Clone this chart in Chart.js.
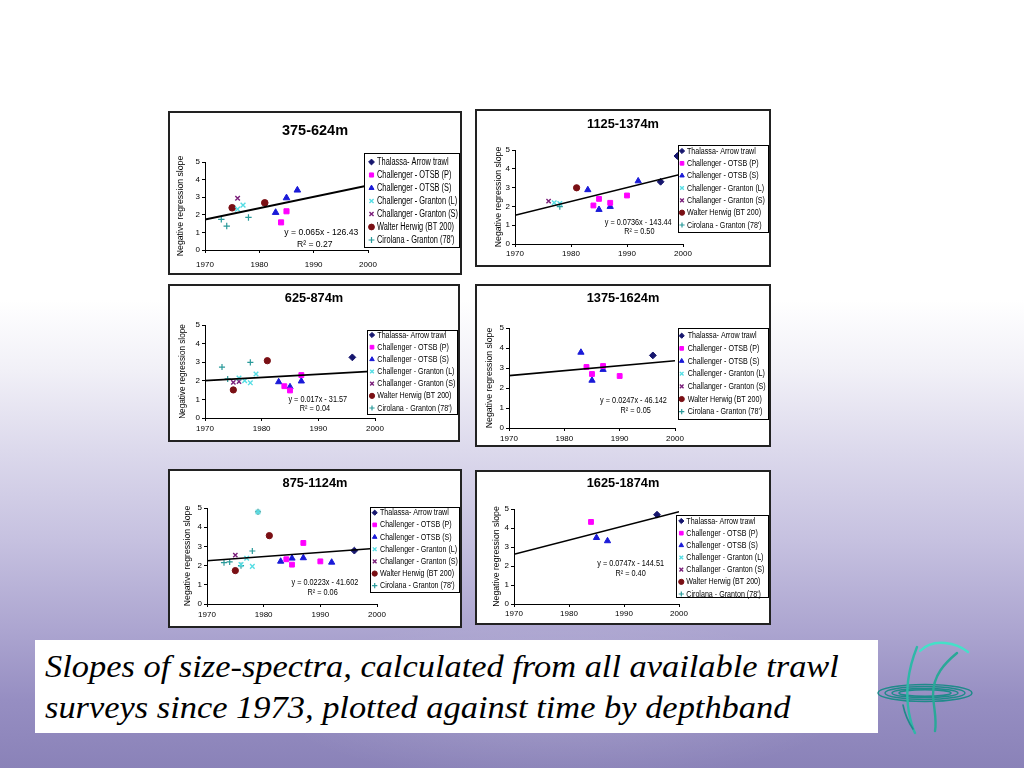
<!DOCTYPE html>
<html>
<head>
<meta charset="utf-8">
<title>Slopes of size-spectra by depthband</title>
<script src="https://cdn.jsdelivr.net/npm/chart.js@4.4.1/dist/chart.umd.min.js"></script>
<style>
html,body{margin:0;padding:0;}
body{width:1024px;height:768px;position:relative;overflow:hidden;
background:
 radial-gradient(ellipse 420px 120px at 560px 700px, rgba(255,255,255,0.16), rgba(255,255,255,0) 70%),
 linear-gradient(180deg,#ffffff 0px,#ffffff 300px,#f1f0f7 370px,#dcd9ec 450px,#c6c1e0 540px,#aca5d0 630px,#968ec2 700px,#8a82b8 768px);}
.panel{position:absolute;background:#fff;border:2px solid #222;box-sizing:border-box;}
.panel canvas{display:block;}
#caption{position:absolute;left:35px;top:640px;width:843px;height:93px;box-sizing:border-box;background:#fff;
 padding:6px 0 0 10px;font-family:'Liberation Serif','Times New Roman',serif;font-style:italic;font-size:31px;line-height:41px;color:#000;white-space:nowrap;}
#caption span{display:inline-block;transform:scaleX(1.11);transform-origin:0 0;}
#logo{position:absolute;left:875px;top:615px;}
</style>
</head>
<body>
<div class="panel" style="left:168px;top:111px;width:294px;height:164px"><canvas id="c375" width="290" height="160"></canvas></div>
<div class="panel" style="left:475px;top:109px;width:296px;height:158px"><canvas id="c1125" width="292" height="154"></canvas></div>
<div class="panel" style="left:168px;top:284px;width:292px;height:158px"><canvas id="c625" width="288" height="154"></canvas></div>
<div class="panel" style="left:475px;top:284px;width:296px;height:163px"><canvas id="c1375" width="292" height="159"></canvas></div>
<div class="panel" style="left:168px;top:469px;width:294px;height:159px"><canvas id="c875" width="290" height="155"></canvas></div>
<div class="panel" style="left:475px;top:470px;width:296px;height:155px"><canvas id="c1625" width="292" height="151"></canvas></div>
<div id="caption"><span>Slopes of size-spectra, calculated from all available trawl<br>surveys since 1973, plotted against time by depthband</span></div>
<svg id="logo" width="110" height="150" viewBox="0 0 110 150">
 <g fill="none" stroke="#1f8a8a" stroke-width="1.5">
  <ellipse cx="50" cy="78" rx="47" ry="8.5"/>
  <ellipse cx="50" cy="78" rx="40" ry="6.4"/>
  <ellipse cx="50" cy="78" rx="33" ry="4.6"/>
  <ellipse cx="50" cy="78" rx="26" ry="3.2"/>
 </g>
 <g fill="none" stroke-linecap="round">
  <path d="M42 32 C 34 52, 30 76, 34 98 C 36 108, 38 114, 40 118" stroke="#2fb8a8" stroke-width="2.4"/>
  <path d="M45 36 C 52 29, 60 27, 70 28 C 80 29, 88 33, 93 37" stroke="#45e0c8" stroke-width="2.4"/>
  <path d="M82 38 C 70 48, 58 60, 58 80 C 59 95, 62 105, 60 116" stroke="#2aa898" stroke-width="2.4"/>
  <path d="M28 90 C 30 100, 34 108, 38 114" stroke="#1f8a8a" stroke-width="1.6"/>
 </g>
</svg>
<script>
// ---------- shared labels ----------
const seriesNames = ["Thalassa- Arrow trawl","Challenger - OTSB (P)","Challenger - OTSB (S)","Challenger - Granton (L)","Challanger - Granton (S)","Walter Herwig (BT 200)","Cirolana - Granton (78')"];
const panelTitles = ["375-624m","1125-1374m","625-874m","1375-1624m","875-1124m","1625-1874m"];
const xTickValues = [1970,1980,1990,2000];
const xTickLabels = ["1970","1980","1990","2000"];
const yTickValues = [0,1,2,3,4,5];
const yTickLabels = ["0","1","2","3","4","5"];
const yAxisTitle = "Negative regression slope";

// ---------- 375-624m ----------
const d375_thalassa = [];
const d375_otsbP = [[1984,1.57],[1985,2.20]];
const d375_otsbS = [[1983,2.13],[1985,2.96],[1987,3.40]];
const d375_grantonL = [[1976,2.32],[1977,2.55]];
const d375_grantonS = [[1976,2.94]];
const d375_walter = [[1975,2.40],[1981,2.68]];
const d375_cirolana = [[1973,1.74],[1974,1.36],[1978,1.85]];
const trend375 = [[1970,1.73],[2000,3.66]];
const eq375 = ["y = 0.065x - 126.43","R² = 0.27"];

// ---------- 1125-1374m ----------
const d1125_thalassa = [[1996,3.31],[1999,4.68]];
const d1125_otsbP = [[1984,2.05],[1985,2.40],[1987,2.19],[1990,2.58]];
const d1125_otsbS = [[1983,2.88],[1985,1.83],[1987,1.99],[1992,3.35]];
const d1125_grantonL = [[1977,2.19],[1978,2.15]];
const d1125_grantonS = [[1976,2.28]];
const d1125_walter = [[1981,2.99]];
const d1125_cirolana = [[1978,1.99]];
const trend1125 = [[1970,1.53],[2000,3.74]];
const eq1125 = ["y = 0.0736x - 143.44","R² = 0.50"];

// ---------- 625-874m ----------
const d625_thalassa = [[1996,3.26]];
const d625_otsbP = [[1984,1.71],[1985,1.48],[1987,2.31]];
const d625_otsbS = [[1983,1.94],[1985,1.67],[1987,1.98]];
const d625_grantonL = [[1976,2.15],[1977,2.01],[1978,1.89],[1979,2.37]];
const d625_grantonS = [[1975,1.92],[1976,1.96]];
const d625_walter = [[1975,1.51],[1981,3.08]];
const d625_cirolana = [[1973,2.74],[1974,2.10],[1978,2.99]];
const trend625 = [[1970,2.01],[2000,2.52]];
const eq625 = ["y = 0.017x - 31.57","R² = 0.04"];

// ---------- 1375-1624m ----------
const d1375_thalassa = [[1996,3.63]];
const d1375_otsbP = [[1984,3.05],[1985,2.70],[1987,3.10],[1990,2.60]];
const d1375_otsbS = [[1983,3.78],[1985,2.38],[1987,2.92]];
const d1375_grantonL = [];
const d1375_grantonS = [];
const d1375_walter = [];
const d1375_cirolana = [];
const trend1375 = [[1970,2.62],[2000,3.36]];
const eq1375 = ["y = 0.0247x - 46.142","R² = 0.05"];

// ---------- 875-1124m ----------
const d875_thalassa = [[1996,2.78]];
const d875_otsbP = [[1984,2.33],[1985,2.05],[1987,3.18],[1990,2.22]];
const d875_otsbS = [[1983,2.22],[1985,2.38],[1987,2.40],[1992,2.17]];
const d875_grantonL = [[1976,2.05],[1977,2.38],[1978,1.96],[1979,4.79]];
const d875_grantonS = [[1975,2.55]];
const d875_walter = [[1975,1.74],[1981,3.56]];
const d875_cirolana = [[1973,2.15],[1974,2.19],[1976,2.00],[1978,2.76],[1979,4.80]];
const trend875 = [[1970,2.25],[2000,2.90]];
const eq875 = ["y = 0.0223x - 41.602","R² = 0.06"];

// ---------- 1625-1874m ----------
const d1625_thalassa = [[1996,4.70]];
const d1625_otsbP = [[1984,4.32]];
const d1625_otsbS = [[1985,3.49],[1987,3.32]];
const d1625_grantonL = [];
const d1625_grantonS = [];
const d1625_walter = [];
const d1625_cirolana = [];
const trend1625 = [[1970,2.62],[2000,4.86]];
const eq1625 = ["y = 0.0747x - 144.51","R² = 0.40"];

// ---------- styles ----------
const SANS = "'Liberation Sans', Arial, sans-serif";
Chart.defaults.font.family = SANS;
const seriesStyles = [
  {pointStyle:'rectRot', color:'#16166e', radius:3.6, bw:1},
  {pointStyle:'rect', color:'#ff00ff', radius:3.6, bw:1},
  {pointStyle:'triangle', color:'#1a1ad8', radius:3.8, bw:1},
  {pointStyle:'crossRot', color:'#55dde4', radius:3.4, bw:1.4},
  {pointStyle:'crossRot', color:'#7a1f7a', radius:3.2, bw:1.4},
  {pointStyle:'circle', color:'#7a0f14', radius:3.3, bw:1},
  {pointStyle:'cross', color:'#2a9a9a', radius:3.2, bw:1.2}
];

// ---------- plugins ----------
// framed legend with condensed text, drawn from the chart's own datasets
const framedLegend = {
  id: 'framedLegend',
  afterDraw(chart, args, o) {
    if (!o || o.frameLeft === undefined) return;
    const ctx = chart.ctx;
    const items = chart.data.datasets.filter(d => d.label !== '__trend');
    ctx.save();
    ctx.fillStyle = '#fff';
    ctx.fillRect(o.frameLeft, o.frameTop, chart.width - o.frameLeft, o.frameBottom - o.frameTop);
    ctx.strokeStyle = '#000';
    ctx.lineWidth = 1;
    ctx.strokeRect(o.frameLeft + 0.5, o.frameTop + 0.5, chart.width - o.frameLeft - 1, o.frameBottom - o.frameTop);
    items.forEach((d, i) => {
      const y = o.firstY + i * o.spacing;
      ctx.save();
      ctx.fillStyle = d.backgroundColor;
      ctx.strokeStyle = d.borderColor;
      ctx.lineWidth = d.borderWidth;
      Chart.helpers.drawPoint(ctx, {pointStyle: d.pointStyle, radius: o.markerR, borderWidth: d.borderWidth, rotation: 0}, o.markerX, y);
      ctx.restore();
      ctx.save();
      ctx.translate(o.textX, y);
      ctx.scale(o.sx, 1);
      ctx.font = o.size + 'px ' + SANS;
      ctx.fillStyle = '#000';
      ctx.textAlign = 'left';
      ctx.textBaseline = 'middle';
      ctx.fillText(d.label, 0, 0);
      ctx.restore();
    });
    ctx.restore();
  }
};
// regression equation text placed in data coordinates
const eqText = {
  id: 'eqText',
  afterDatasetsDraw(chart, args, o) {
    if (!o || !o.lines) return;
    const xs = chart.scales.x, ys = chart.scales.y, ctx = chart.ctx;
    o.lines.forEach((t, i) => {
      ctx.save();
      ctx.translate(xs.getPixelForValue(o.at[i][0]), ys.getPixelForValue(o.at[i][1]));
      ctx.scale(o.sx, 1);
      ctx.font = o.size + 'px ' + SANS;
      ctx.fillStyle = '#000';
      ctx.textAlign = 'center';
      ctx.textBaseline = 'middle';
      ctx.fillText(t, 0, 0);
      ctx.restore();
    });
  }
};
Chart.register(framedLegend, eqText);

// ---------- panel layouts (canvas px) ----------
const panels = [
  {id:'c375', title:panelTitles[0], series:[d375_thalassa,d375_otsbP,d375_otsbS,d375_grantonL,d375_grantonS,d375_walter,d375_cirolana], trend:trend375, eq:eq375,
   eqAt:[[1991.4,1.0],[1990.2,0.34]], eqSize:9.8, eqSx:0.88, W:290, H:160, area:{left:35,right:198,top:49,bottom:137},
   titleSize:14.5, titleTop:8.9, xPad:7.2, yTitleSize:8.7, yTitleCenter:11,
   lg:{frameLeft:194, frameTop:40, frameBottom:134, firstY:49, spacing:13, markerX:201.5, textX:207, size:10, sx:0.74, markerR:2.9}, trendW:2, mScale:1},
  {id:'c1125', title:panelTitles[1], series:[d1125_thalassa,d1125_otsbP,d1125_otsbS,d1125_grantonL,d1125_grantonS,d1125_walter,d1125_cirolana], trend:trend1125, eq:eq1125,
   eqAt:[[1992.0,1.12],[1992.2,0.64]], eqSize:8.6, eqSx:0.85, W:292, H:154, area:{left:38,right:206,top:39,bottom:133},
   titleSize:12.8, titleTop:5.3, xPad:1.9, yTitleSize:8.7, yTitleCenter:22,
   lg:{frameLeft:201, frameTop:34, frameBottom:121, firstY:40, spacing:12.33, markerX:205, textX:210, size:9.2, sx:0.775, markerR:2.6}, trendW:1.6, mScale:0.95},
  {id:'c625', title:panelTitles[2], series:[d625_thalassa,d625_otsbP,d625_otsbS,d625_grantonL,d625_grantonS,d625_walter,d625_cirolana], trend:trend625, eq:eq625,
   eqAt:[[1989.9,1.0],[1989.4,0.5]], eqSize:8.6, eqSx:0.85, W:288, H:154, area:{left:35,right:205,top:39,bottom:132},
   titleSize:12.8, titleTop:5, xPad:2.6, yTitleSize:8.2, yTitleCenter:13,
   lg:{frameLeft:197, frameTop:44, frameBottom:128, firstY:49, spacing:12.17, markerX:202, textX:207.3, size:9.2, sx:0.775, markerR:2.6}, trendW:1.6, mScale:0.95},
  {id:'c1375', title:panelTitles[3], series:[d1375_thalassa,d1375_otsbP,d1375_otsbS,d1375_grantonL,d1375_grantonS,d1375_walter,d1375_cirolana], trend:trend1375, eq:eq1375,
   eqAt:[[1992.5,1.38],[1992.9,0.86]], eqSize:8.6, eqSx:0.85, W:292, H:159, area:{left:32,right:198,top:42,bottom:142},
   titleSize:12.8, titleTop:5, xPad:2.5, yTitleSize:8.7, yTitleCenter:13,
   lg:{frameLeft:201, frameTop:42, frameBottom:133, firstY:49.7, spacing:12.67, markerX:204.7, textX:210.7, size:9.2, sx:0.775, markerR:2.6}, trendW:1.6, mScale:0.95},
  {id:'c875', title:panelTitles[4], series:[d875_thalassa,d875_otsbP,d875_otsbS,d875_grantonL,d875_grantonS,d875_walter,d875_cirolana], trend:trend875, eq:eq875,
   eqAt:[[1990.8,1.09],[1990.4,0.61]], eqSize:8.6, eqSx:0.85, W:290, H:155, area:{left:37,right:207,top:37,bottom:133},
   titleSize:12.8, titleTop:4.6, xPad:2.9, yTitleSize:8.7, yTitleCenter:18,
   lg:{frameLeft:200, frameTop:36, frameBottom:121, firstY:41.7, spacing:12.17, markerX:204.7, textX:210, size:9.2, sx:0.775, markerR:2.6}, trendW:1.6, mScale:0.95},
  {id:'c1625', title:panelTitles[5], series:[d1625_thalassa,d1625_otsbP,d1625_otsbS,d1625_grantonL,d1625_grantonS,d1625_walter,d1625_cirolana], trend:trend1625, eq:eq1625,
   eqAt:[[1991.2,2.1],[1991.2,1.61]], eqSize:8.6, eqSx:0.85, W:292, H:151, area:{left:37,right:202,top:37,bottom:132},
   titleSize:12.8, titleTop:3.3, xPad:2.2, yTitleSize:8.7, yTitleCenter:19.7,
   lg:{frameLeft:199, frameTop:43, frameBottom:125, firstY:49, spacing:12.17, markerX:204.3, textX:209.3, size:9.2, sx:0.775, markerR:2.6}, trendW:1.6, mScale:0.95}
];

function buildChart(p) {
  const datasets = p.series.map((arr, i) => {
    const s = seriesStyles[i];
    return {
      label: seriesNames[i],
      data: arr.map(([x, y]) => ({x, y})),
      pointStyle: s.pointStyle,
      backgroundColor: s.color,
      borderColor: s.color,
      borderWidth: s.bw,
      pointRadius: s.radius * p.mScale,
      showLine: false,
      order: 1
    };
  });
  datasets.push({
    label: '__trend', type: 'line',
    data: p.trend.map(([x, y]) => ({x, y})),
    borderColor: '#000', backgroundColor: '#000', borderWidth: p.trendW,
    pointRadius: 0, fill: false, showLine: true, order: 0
  });
  const lhTitle = p.titleSize * 1.2;
  const titleBottom = p.area.top - p.titleTop - lhTitle;
  const yTitleLH = p.yTitleSize * 1.2;
  new Chart(document.getElementById(p.id), {
    type: 'scatter',
    data: {datasets},
    options: {
      responsive: false, animation: false, events: [],
      layout: {padding: 0},
      plugins: {
        title: {display: true, text: p.title, color: '#000', font: {family: SANS, size: p.titleSize, weight: 'bold', lineHeight: 1.2},
                padding: {top: p.titleTop, bottom: titleBottom}},
        legend: {display: false},
        tooltip: {enabled: false},
        framedLegend: p.lg,
        eqText: {lines: p.eq, at: p.eqAt, size: p.eqSize, sx: p.eqSx}
      },
      scales: {
        x: {
          type: 'linear', min: 1970, max: 2000,
          afterFit: s => { s.height = p.H - p.area.bottom; },
          afterBuildTicks: s => { s.ticks = xTickValues.map(v => ({value: v})); },
          ticks: {callback: (v, i) => xTickLabels[i], autoSkip: false, maxRotation: 0, color: '#000',
                  font: {family: SANS, size: 8}, padding: p.xPad},
          grid: {drawOnChartArea: false, drawTicks: true, tickLength: 3, color: '#000'},
          border: {display: true, color: '#000', width: 1}
        },
        y: {
          type: 'linear', min: 0, max: 5,
          afterFit: s => { s.width = p.area.left; },
          afterBuildTicks: s => { s.ticks = yTickValues.map(v => ({value: v})); },
          ticks: {callback: (v, i) => yTickLabels[i], color: '#000', font: {family: SANS, size: 8}, padding: 2},
          grid: {drawOnChartArea: false, drawTicks: true, tickLength: 3, color: '#000'},
          border: {display: true, color: '#000', width: 1},
          title: {display: true, text: yAxisTitle, color: '#000', font: {family: SANS, size: p.yTitleSize, lineHeight: 1.2},
                  padding: {top: p.yTitleCenter - yTitleLH / 2, bottom: 0}}
        },
        // reserves the legend column on the right so the plot area ends at 2000
        legendSpace: {
          type: 'linear', position: 'right', min: 0, max: 5, display: true,
          afterFit: s => { s.width = p.W - p.area.right; },
          ticks: {display: false},
          grid: {display: false, drawTicks: false},
          border: {display: false}
        }
      }
    }
  });
}
panels.forEach(buildChart);
</script>
</body>
</html>
